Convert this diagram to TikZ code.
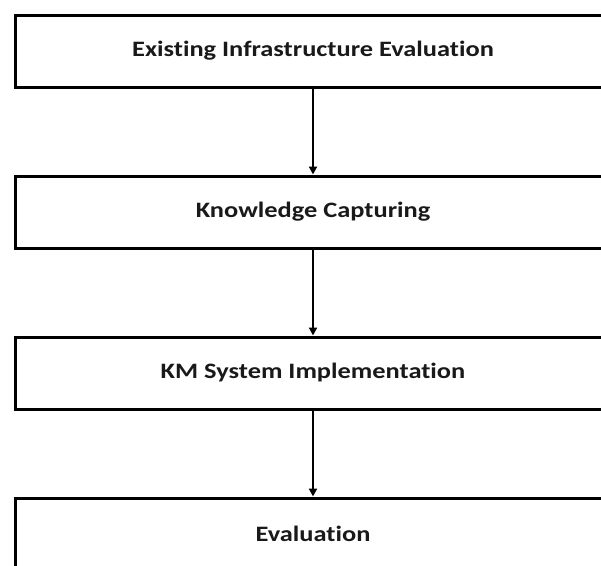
\documentclass[tikz,border=0pt]{standalone}
\usepackage{fontspec}
\setmainfont{Carlito}[FakeStretch=1.2,Ligatures=NoCommon]
\usetikzlibrary{arrows.meta}
\begin{document}
\begin{tikzpicture}[x=1pt,y=-1pt,
  stagebox/.style={draw=black,line width=3pt,fill=white,minimum width=596pt,minimum height=72pt,inner sep=0pt,font=\fontsize{22}{26}\selectfont\bfseries,text=black!90},
  flowarrow/.style={line width=2.6pt,-{Triangle[width=8pt,length=8pt]}}]
\useasboundingbox (0,0) rectangle (601,565);
\clip (0,0) rectangle (601,565);
\node[stagebox] (b1) at (313,51) {Existing Infrastructure Evaluation};
\node[stagebox] (b2) at (313,212) {Knowledge Capturing};
\node[stagebox] (b3) at (313,373) {KM System Implementation};
\node[stagebox] (b4) at (313,534) {Evaluation};
\draw[flowarrow] (b1.south) -- (b2.north);
\draw[flowarrow] (b2.south) -- (b3.north);
\draw[flowarrow] (b3.south) -- (b4.north);
\end{tikzpicture}
\end{document}
